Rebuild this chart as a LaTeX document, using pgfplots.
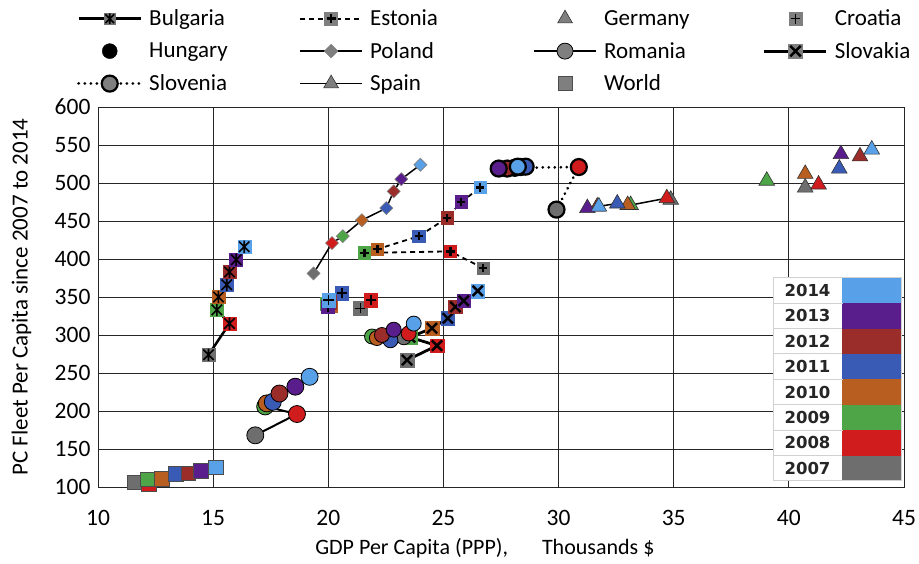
\documentclass[border=0pt]{standalone}
\usepackage{pgfplots}
\pgfplotsset{compat=1.18}
\usepackage{pgfplotstable}
\usepackage{fontspec}
\setmainfont{Carlito}
\newfontfamily\tabfont{DejaVu Sans}

\definecolor{c07}{HTML}{6E6E6E}
\definecolor{c08}{HTML}{D01C1C}
\definecolor{c09}{HTML}{4EA548}
\definecolor{c10}{HTML}{B85E20}
\definecolor{c11}{HTML}{3A5BB5}
\definecolor{c12}{HTML}{9A2C2A}
\definecolor{c13}{HTML}{5A1E8C}
\definecolor{c14}{HTML}{58A0E8}
\definecolor{lg}{HTML}{7F7F7F}

% square + asterisk (Bulgaria)
\pgfdeclareplotmark{sqast}{%
  \pgfpathrectangle{\pgfqpoint{-\pgfplotmarksize}{-\pgfplotmarksize}}{\pgfqpoint{2\pgfplotmarksize}{2\pgfplotmarksize}}%
  \pgfusepathqfillstroke
  \begin{pgfscope}\pgfsetstrokecolor{black}\pgfsetlinewidth{1.6pt}%
  \pgfpathmoveto{\pgfqpoint{-0.8\pgfplotmarksize}{-0.8\pgfplotmarksize}}\pgfpathlineto{\pgfqpoint{0.8\pgfplotmarksize}{0.8\pgfplotmarksize}}%
  \pgfpathmoveto{\pgfqpoint{-0.8\pgfplotmarksize}{0.8\pgfplotmarksize}}\pgfpathlineto{\pgfqpoint{0.8\pgfplotmarksize}{-0.8\pgfplotmarksize}}%
  \pgfpathmoveto{\pgfqpoint{0pt}{-0.95\pgfplotmarksize}}\pgfpathlineto{\pgfqpoint{0pt}{0.95\pgfplotmarksize}}%
  \pgfusepathqstroke\end{pgfscope}}
% rounded square + thick plus (Estonia)
\pgfdeclareplotmark{sqplusb}{%
  \begin{pgfscope}\pgfsetcornersarced{\pgfqpoint{2pt}{2pt}}%
  \pgfpathrectangle{\pgfqpoint{-\pgfplotmarksize}{-\pgfplotmarksize}}{\pgfqpoint{2\pgfplotmarksize}{2\pgfplotmarksize}}%
  \pgfusepathqfillstroke\end{pgfscope}
  \begin{pgfscope}\pgfsetstrokecolor{black}\pgfsetlinewidth{2.4pt}%
  \pgfpathmoveto{\pgfqpoint{-0.68\pgfplotmarksize}{0pt}}\pgfpathlineto{\pgfqpoint{0.68\pgfplotmarksize}{0pt}}%
  \pgfpathmoveto{\pgfqpoint{0pt}{-0.68\pgfplotmarksize}}\pgfpathlineto{\pgfqpoint{0pt}{0.68\pgfplotmarksize}}%
  \pgfusepathqstroke\end{pgfscope}}
% square + thin plus (Croatia)
\pgfdeclareplotmark{sqplus}{%
  \pgfpathrectangle{\pgfqpoint{-\pgfplotmarksize}{-\pgfplotmarksize}}{\pgfqpoint{2\pgfplotmarksize}{2\pgfplotmarksize}}%
  \pgfusepathqfillstroke
  \begin{pgfscope}\pgfsetstrokecolor{black}\pgfsetlinewidth{1.4pt}%
  \pgfpathmoveto{\pgfqpoint{-0.75\pgfplotmarksize}{0pt}}\pgfpathlineto{\pgfqpoint{0.75\pgfplotmarksize}{0pt}}%
  \pgfpathmoveto{\pgfqpoint{0pt}{-0.75\pgfplotmarksize}}\pgfpathlineto{\pgfqpoint{0pt}{0.75\pgfplotmarksize}}%
  \pgfusepathqstroke\end{pgfscope}}
% square + thick X (Slovakia)
\pgfdeclareplotmark{sqx}{%
  \pgfpathrectangle{\pgfqpoint{-\pgfplotmarksize}{-\pgfplotmarksize}}{\pgfqpoint{2\pgfplotmarksize}{2\pgfplotmarksize}}%
  \pgfusepathqfillstroke
  \begin{pgfscope}\pgfsetstrokecolor{black}\pgfsetlinewidth{2.4pt}%
  \pgfpathmoveto{\pgfqpoint{-0.75\pgfplotmarksize}{-0.75\pgfplotmarksize}}\pgfpathlineto{\pgfqpoint{0.75\pgfplotmarksize}{0.75\pgfplotmarksize}}%
  \pgfpathmoveto{\pgfqpoint{-0.75\pgfplotmarksize}{0.75\pgfplotmarksize}}\pgfpathlineto{\pgfqpoint{0.75\pgfplotmarksize}{-0.75\pgfplotmarksize}}%
  \pgfusepathqstroke\end{pgfscope}}

\pgfplotsset{
  yrfill/.style={scatter, point meta=explicit symbolic, scatter/classes={
    a={fill=c07}, b={fill=c08}, c={fill=c09}, d={fill=c10},
    e={fill=c11}, f={fill=c12}, g={fill=c13}, h={fill=c14}}},
  yrboth/.style={scatter, point meta=explicit symbolic, scatter/classes={
    a={fill=c07,draw=c07}, b={fill=c08,draw=c08}, c={fill=c09,draw=c09}, d={fill=c10,draw=c10},
    e={fill=c11,draw=c11}, f={fill=c12,draw=c12}, g={fill=c13,draw=c13}, h={fill=c14,draw=c14}}},
  legline/.style={legend image code/.code={%
     \draw[mark repeat=2,mark phase=2,##1] plot coordinates {(0pt,0pt) (31pt,0pt) (62pt,0pt)};}},
  legmark/.style={legend image code/.code={%
     \draw[white, opacity=0, line width=0.1pt] (0pt,0pt) -- (62pt,0pt);
     \draw[##1] plot[only marks] coordinates {(31pt,0pt)};}},
}

\newcommand\lgA[1]{\hspace{7pt}\makebox[150pt][l]{#1}}
\newcommand\lgB[1]{\hspace{7pt}\makebox[163pt][l]{#1}}
\newcommand\lgC[1]{\hspace{7pt}\makebox[159pt][l]{#1}}
\newcommand\lgD[1]{\hspace{7pt}\makebox[70pt][l]{#1}}

\pgfplotstableread{
x y c
14.80 274 a
15.71 315 b
15.16 333 c
15.23 350 d
15.59 366 e
15.71 383 f
16.00 399 g
16.35 416 h
}\bul
\pgfplotstableread{
x y c
26.72 388 a
25.30 410 b
21.57 408 c
22.14 413 d
23.93 430 e
25.16 454 f
25.77 475 g
26.60 494 h
}\est
\pgfplotstableread{
x y c
40.71 494 a
41.29 498 b
39.04 503 c
40.71 512 d
42.19 519 e
43.09 535 f
42.26 538 g
43.60 544 h
}\ger
\pgfplotstableread{
x y c
21.39 335 a
21.85 346 b
19.95 341 c
20.10 339 d
20.59 355 e
20.05 343 f
19.98 337 g
20.01 346 h
}\cro
\pgfplotstableread{
x y c
23.28 297 a
23.49 302 b
21.90 298 c
22.11 296 d
22.70 293 e
22.33 300 f
22.84 307 g
23.71 315 h
}\hun
\pgfplotstableread{
x y c
19.36 381 a
20.16 421 b
20.63 430 c
21.46 451 d
22.52 467 e
22.84 489 f
23.17 505 g
24.00 524 h
}\pol
\pgfplotstableread{
x y c
16.83 168 a
18.64 196 b
17.26 206 c
17.33 210 d
17.59 212 e
17.88 223 f
18.57 232 g
19.19 245 h
}\rom
\pgfplotstableread{
x y c
23.42 267 a
24.72 286 b
23.55 297 c
24.50 309 d
25.19 322 e
25.52 337 f
25.88 345 g
26.49 358 h
}\svk
\pgfplotstableread{
x y c
29.91 465 a
30.88 521 b
28.10 520 c
28.35 521 d
28.57 521.5 e
27.77 519 f
27.40 519 g
28.23 521.5 h
}\svn
\pgfplotstableread{
x y c
34.87 478 a
34.70 480 b
33.13 471 c
33.00 471 d
32.55 473 e
31.68 469 f
31.25 467 g
31.75 469 h
}\esp
\pgfplotstableread{
x y c
11.61 106 a
12.20 104 b
12.14 110 c
12.77 111 d
13.39 117 e
13.93 118 f
14.48 121 g
15.11 126 h
}\wld

\begin{document}
\begin{tikzpicture}
\useasboundingbox (-98pt,-77pt) rectangle (821pt,487pt);
\begin{axis}[
  at={(0pt,0pt)}, anchor=south west,
  scale only axis, width=806pt, height=380pt,
  xmin=10, xmax=45, ymin=100, ymax=600,
  xtick={10,15,...,45}, ytick={100,150,...,600},
  grid=major, major grid style={black!85, line width=0.8pt},
  axis line style={black!85, line width=0.8pt},
  major tick length=0pt,
  tick label style={font=\fontsize{23.5}{26}\selectfont},
  /pgf/number format/assume math mode=true,
  xticklabel style={yshift=-20pt},
  yticklabel style={xshift=-4pt},
  label style={font=\fontsize{23}{26}\selectfont},
  xlabel={GDP Per Capita (PPP),\hspace{34pt}Thousands \$},
  xlabel style={at={(axis description cs:0.48,-0.178)}, anchor=base, font=\fontsize{22}{26}\selectfont},
  ylabel={PC Fleet Per Capita since 2007 to 2014},
  ylabel style={at={(axis description cs:-0.095,0.5)}, anchor=center},
  clip=false,
  legend columns=4,
  legend cell align=left,
  legend style={at={(axis description cs:-0.026,1.256)}, anchor=north west,
    draw=none, fill=none, inner xsep=0pt, inner ysep=0pt,
    font=\fontsize{23}{26}\selectfont, column sep=0pt, row sep=15pt,
    nodes={inner sep=0pt}},
]
% Bulgaria
\addplot[forget plot, black, line width=2.5pt, mark=sqast, mark size=6.5pt,
  mark options={solid, line width=0.4pt}, yrboth] table[x=x,y=y,meta=c] {\bul};
% Estonia
\addplot[forget plot, black, line width=1.8pt, dash pattern=on 5pt off 4pt, mark=sqplusb, mark size=6.2pt,
  mark options={solid, line width=0.6pt}, yrboth] table[x=x,y=y,meta=c] {\est};
% Germany
\addplot[forget plot, only marks, black, mark=triangle*, mark size=9pt,
  mark options={draw=black!80, line width=0.6pt}, yrfill] table[x=x,y=y,meta=c] {\ger};
% Croatia
\addplot[forget plot, only marks, black, mark=sqplus, mark size=6.8pt,
  mark options={line width=0.4pt}, yrboth] table[x=x,y=y,meta=c] {\cro};
% Slovakia
\addplot[forget plot, black, line width=2.8pt, mark=sqx, mark size=6.8pt,
  mark options={solid, line width=0.4pt}, yrboth] table[x=x,y=y,meta=c] {\svk};
% Hungary
\addplot[forget plot, only marks, black, mark=*, mark size=7.5pt,
  mark options={draw=black, line width=0.8pt}, yrfill] table[x=x,y=y,meta=c] {\hun};
% Poland
\addplot[forget plot, black, line width=1.5pt, mark=square*, mark size=4.6pt,
  mark options={solid, rotate=45, draw=black!50, line width=0.6pt}, yrfill] table[x=x,y=y,meta=c] {\pol};
% Romania
\addplot[forget plot, black, line width=2pt, mark=*, mark size=8.5pt,
  mark options={solid, draw=black, line width=0.8pt}, yrfill] table[x=x,y=y,meta=c] {\rom};
% Slovenia
\addplot[forget plot, black, line width=3pt, dash pattern=on 0.01pt off 6pt, line cap=round, mark=*, mark size=8pt,
  mark options={solid, draw=black, line width=2.2pt}, yrfill] table[x=x,y=y,meta=c] {\svn};
% Spain
\addplot[forget plot, black, line width=1.5pt, mark=triangle*, mark size=9pt,
  mark options={solid, draw=black!80, line width=0.6pt}, yrfill] table[x=x,y=y,meta=c] {\esp};
% World
\addplot[forget plot, only marks, black, mark=square*, mark size=7.3pt,
  mark options={draw=black!70, line width=0.8pt}, yrfill] table[x=x,y=y,meta=c] {\wld};

% legend
\addlegendimage{legline, black, line width=2.5pt, mark=sqast, mark size=5.5pt, mark options={solid, line width=0.4pt, fill=black!55, draw=black!55}}
\addlegendentry{\lgA{Bulgaria}}
\addlegendimage{legline, black, line width=1.8pt, dash pattern=on 5pt off 4pt, mark=sqplusb, mark size=6.5pt, mark options={solid, line width=0.6pt, fill=lg, draw=lg}}
\addlegendentry{\lgB{Estonia}}
\addlegendimage{legmark, mark=triangle*, mark size=8.5pt, mark options={fill=lg, draw=black!80, line width=0.6pt}}
\addlegendentry{\lgC{Germany}}
\addlegendimage{legmark, mark=sqplus, mark size=6.5pt, mark options={fill=lg, draw=lg, line width=0.4pt}}
\addlegendentry{\lgD{Croatia}}
\addlegendimage{legmark, mark=*, mark size=7.5pt, mark options={fill=black, draw=black}}
\addlegendentry{\lgA{Hungary}}
\addlegendimage{legline, black, line width=1.5pt, mark=square*, mark size=4.8pt, mark options={solid, rotate=45, fill=lg, draw=black!50, line width=0.6pt}}
\addlegendentry{\lgB{Poland}}
\addlegendimage{legline, black, line width=2pt, mark=*, mark size=8pt, mark options={solid, fill=lg, draw=black, line width=0.8pt}}
\addlegendentry{\lgC{Romania}}
\addlegendimage{legline, black, line width=2.8pt, mark=sqx, mark size=7pt, mark options={solid, fill=lg, draw=lg, line width=0.4pt}}
\addlegendentry{\lgD{Slovakia}}
\addlegendimage{legline, black, line width=3pt, dash pattern=on 0.01pt off 6pt, line cap=round, mark=*, mark size=8pt, mark options={solid, fill=lg, draw=black, line width=2.2pt}}
\addlegendentry{\lgA{Slovenia}}
\addlegendimage{legline, black, line width=1.5pt, mark=triangle*, mark size=8.5pt, mark options={solid, fill=lg, draw=black!80, line width=0.6pt}}
\addlegendentry{\lgB{Spain}}
\addlegendimage{legmark, mark=square*, mark size=7pt, mark options={fill=lg, draw=black!70, line width=0.8pt}}
\addlegendentry{\lgC{World}}
\end{axis}

% year colour key
\begin{scope}[font=\tabfont\bfseries\fontsize{16.5}{18}\selectfont]
\foreach \yr/\col [count=\i from 0] in {2007/c07,2008/c08,2009/c09,2010/c10,2011/c11,2012/c12,2013/c13,2014/c14}{
  \filldraw[fill=white, draw=black!18, line width=1pt] (675pt,{6pt+\i*25.4pt}) rectangle (744pt,{31.4pt+\i*25.4pt});
  \fill[\col] (744pt,{6pt+\i*25.4pt}) rectangle (803pt,{31.4pt+\i*25.4pt});
  \node[text=black!85] at (709.5pt,{18.7pt+\i*25.4pt}) {\yr};
}
\draw[black!18, line width=1pt] (675pt,6pt) rectangle (803pt,209.2pt);
\end{scope}
\end{tikzpicture}
\end{document}
